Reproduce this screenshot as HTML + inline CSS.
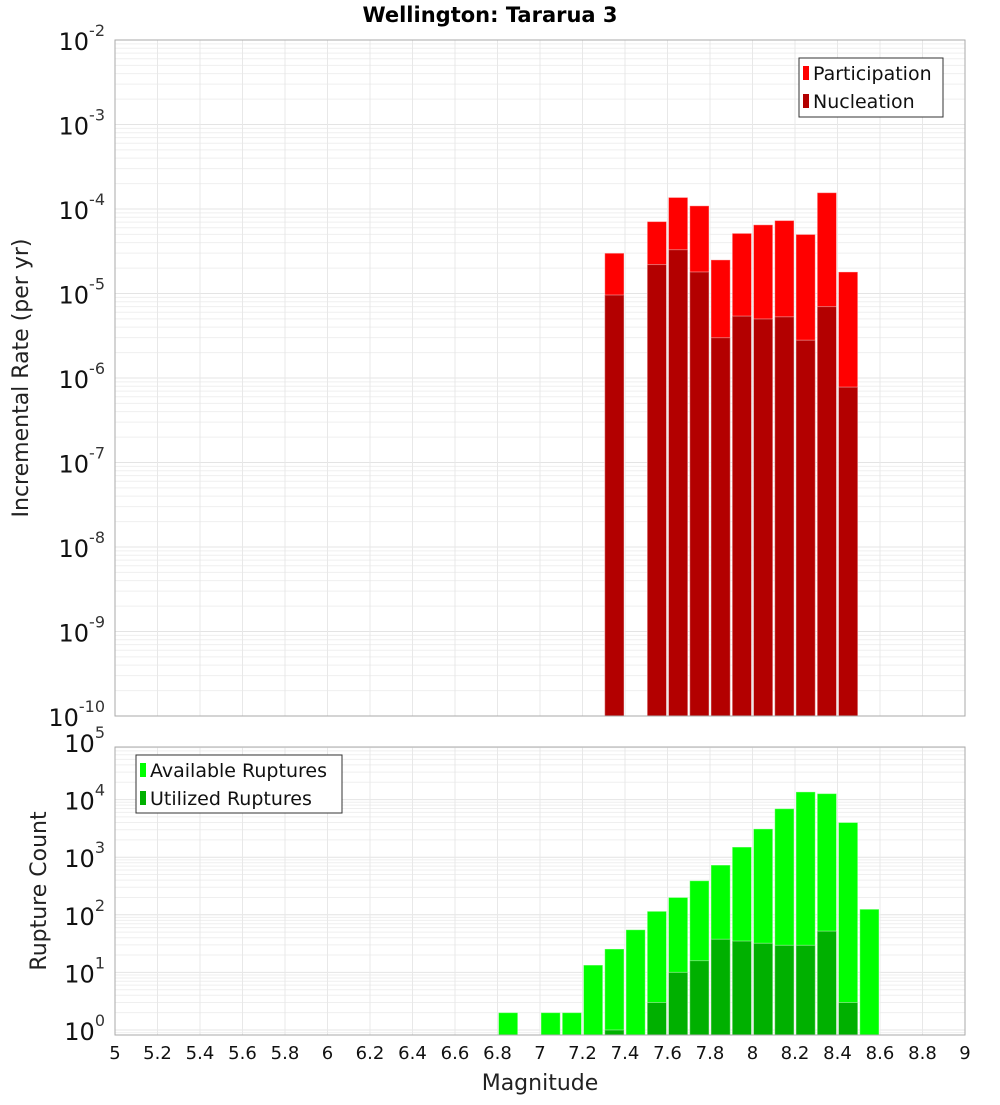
<!DOCTYPE html>
<html><head><meta charset="utf-8"><style>
body{margin:0;background:#fff;}
svg{font-family:"DejaVu Sans","Liberation Sans",sans-serif;}
</style></head><body>
<svg id="c" width="1000" height="1100" xmlns="http://www.w3.org/2000/svg">
<text x="490" y="22" text-anchor="middle" font-size="21" font-weight="bold">Wellington: Tararua 3</text>
<text transform="translate(28,378) rotate(-90)" text-anchor="middle" font-size="22" fill="#222">Incremental Rate (per yr)</text>
<text transform="translate(46,891) rotate(-90)" text-anchor="middle" font-size="22" fill="#222">Rupture Count</text>
<text x="540" y="1090" text-anchor="middle" font-size="22" fill="#222">Magnitude</text>
<g id="top"></g><g id="bot"></g>
</svg>
<script>
const mags=[7.3,7.5,7.6,7.7,7.8,7.9,8.0,8.1,8.2,8.3,8.4];
const participation=[3.0e-5,7.1e-5,1.37e-4,1.09e-4,2.5e-5,5.15e-5,6.5e-5,7.3e-5,5.0e-5,1.56e-4,1.8e-5];
const nucleation=[9.6e-6,2.2e-5,3.3e-5,1.8e-5,3.0e-6,5.4e-6,5.0e-6,5.3e-6,2.8e-6,7.0e-6,7.8e-7];
const rupMags=[6.8,7.0,7.1,7.2,7.3,7.4,7.5,7.6,7.7,7.8,7.9,8.0,8.1,8.2,8.3,8.4,8.5];
const available=[2,2,2,13.4,25.5,55,115,200,390,730,1500,3100,6950,13600,12700,4000,125];
const utilized=[0,0,0,0,1,0,3,10,16,37.6,35,32,29.5,29.5,52,3,0];
const xTicks=[5,5.2,5.4,5.6,5.8,6,6.2,6.4,6.6,6.8,7,7.2,7.4,7.6,7.8,8,8.2,8.4,8.6,8.8,9];
const topDecades=[-10,-9,-8,-7,-6,-5,-4,-3,-2];
const botDecades=[0,1,2,3,4,5];
const NS="http://www.w3.org/2000/svg";
const X0=115,X1=965;
const xs=m=>X0+(m-5)/4*(X1-X0);
function el(p,t,a){const e=document.createElementNS(NS,t);for(const k in a)e.setAttribute(k,a[k]);p.appendChild(e);return e;}
function panel(g,top,bot,lmin,lmax,decs,name){
  const ys=v=>bot-(Math.log10(v)-lmin)/(lmax-lmin)*(bot-top);
  const gr=el(g,'g',{});
  
  
  for(let d=Math.floor(lmin);d<=Math.ceil(lmax);d++)for(let k=1;k<10;k++){const y=ys(k*Math.pow(10,d));if(y<top||y>bot)continue;el(gr,'line',{x1:X0,x2:X1,y1:y,y2:y,stroke:k==1?'#e4e4e4':'#efefef','stroke-width':1});}
  xTicks.forEach(t=>{const x=xs(t);el(gr,'line',{x1:x,x2:x,y1:top,y2:bot,stroke:'#e8e8e8'});});
  const ax=el(g,'g',{});
  
  
  decs.forEach(d=>{const y=ys(Math.pow(10,d));const t=el(ax,'text',{x:105,y:y+10,'text-anchor':'end','font-size':24,fill:'#111'});
    
    
    const a=el(t,'tspan',{});a.textContent='10';const b=el(t,'tspan',{dy:-14,'font-size':16,fill:'#333'});b.textContent=String(d);});
  return ys;
}
const topG=document.getElementById('top'),botG=document.getElementById('bot');
const ysT=panel(topG,40,716,-10,-2,topDecades,'rate-panel');
const ysB=panel(botG,747,1035,-0.087,4.913,botDecades,'count-panel');
const bw=xs(5.1)-xs(5);
function bars(g,ms,vals,ys,bot,col,name){vals.forEach((v,i)=>{if(!(v>0))return;const x=xs(ms[i]);const y=ys(v);const r=el(g,'rect',{x:x+1,y:y,width:bw-2,height:bot-y,fill:col,stroke:'#fff','stroke-opacity':0.4,'stroke-width':1});
  
  });}
bars(topG,mags,participation,ysT,716,'#ff0000','participation-bar');
bars(topG,mags,nucleation,ysT,716,'#b30000','nucleation-bar');
bars(botG,rupMags,available,ysB,1035,'#00ff00','available-bar');
bars(botG,rupMags,utilized,ysB,1035,'#00b000','utilized-bar');
el(topG,'rect',{x:X0,y:40,width:X1-X0,height:676,fill:'none',stroke:'#aaa'});
el(botG,'rect',{x:X0,y:747,width:X1-X0,height:288,fill:'none',stroke:'#aaa'});
const xg=el(botG,'g',{});


xTicks.forEach(t=>{const tx=el(xg,'text',{x:xs(t),y:1059,'text-anchor':'middle','font-size':18,fill:'#111'});tx.textContent=String(t);
  
  });
function legend(g,x,y,w,h,items,name){const lg=el(g,'g',{});
  
  
  el(lg,'rect',{x:x,y:y,width:w,height:h,fill:'#fff',stroke:'#333'});
  items.forEach((it,i)=>{const yy=y+15+i*28;el(lg,'rect',{x:x+4,y:yy-7,width:6,height:14,fill:it[1]});
    const t=el(lg,'text',{x:x+14,y:yy+7,'font-size':19,fill:'#111'});t.textContent=it[0];
    
    });}
legend(topG,799,58,144,59,[['Participation','#ff0000'],['Nucleation','#b30000']],'rate-legend');
legend(botG,136,755,206,58,[['Available Ruptures','#00ff00'],['Utilized Ruptures','#00b000']],'count-legend');
</script>
</body></html>
